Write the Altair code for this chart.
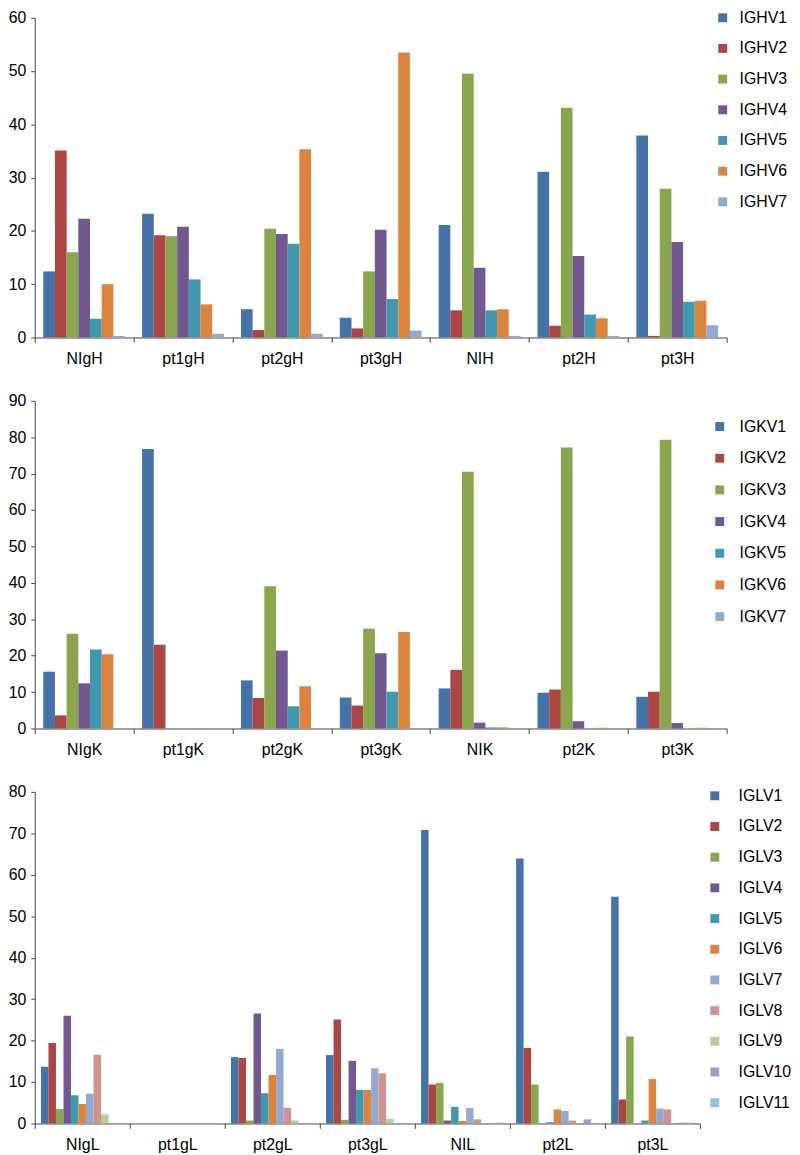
import altair as alt
import pandas as pd

# ---------------- Panel 1: heavy chain ----------------
h_cats = ["NIgH", "pt1gH", "pt2gH", "pt3gH", "NIH", "pt2H", "pt3H"]
h_series = ["IGHV1", "IGHV2", "IGHV3", "IGHV4", "IGHV5", "IGHV6", "IGHV7"]
h_ighv1 = [12.4, 23.2, 5.3, 3.7, 21.1, 31.1, 37.9]
h_ighv2 = [35.1, 19.2, 1.4, 1.7, 5.1, 2.2, 0.3]
h_ighv3 = [16.0, 19.0, 20.4, 12.4, 49.5, 43.1, 27.9]
h_ighv4 = [22.3, 20.8, 19.4, 20.2, 13.1, 15.3, 17.9]
h_ighv5 = [3.5, 10.9, 17.6, 7.2, 5.1, 4.3, 6.7]
h_ighv6 = [10.0, 6.2, 35.3, 53.5, 5.3, 3.6, 6.9]
h_ighv7 = [0.3, 0.7, 0.7, 1.3, 0.3, 0.3, 2.3]
h_values = [h_ighv1, h_ighv2, h_ighv3, h_ighv4, h_ighv5, h_ighv6, h_ighv7]

# ---------------- Panel 2: kappa chain ----------------
k_cats = ["NIgK", "pt1gK", "pt2gK", "pt3gK", "NIK", "pt2K", "pt3K"]
k_series = ["IGKV1", "IGKV2", "IGKV3", "IGKV4", "IGKV5", "IGKV6", "IGKV7"]
k_igkv1 = [15.6, 76.8, 13.2, 8.5, 11.0, 9.8, 8.7]
k_igkv2 = [3.6, 23.0, 8.4, 6.3, 16.1, 10.7, 10.1]
k_igkv3 = [26.0, 0, 39.1, 27.4, 70.5, 77.2, 79.3]
k_igkv4 = [12.4, 0, 21.4, 20.7, 1.6, 2.0, 1.5]
k_igkv5 = [21.7, 0, 6.1, 10.1, 0.3, 0, 0]
k_igkv6 = [20.4, 0, 11.6, 26.5, 0.3, 0.2, 0.2]
k_igkv7 = [0, 0, 0, 0, 0, 0, 0]
k_values = [k_igkv1, k_igkv2, k_igkv3, k_igkv4, k_igkv5, k_igkv6, k_igkv7]

# ---------------- Panel 3: lambda chain ----------------
l_cats = ["NIgL", "pt1gL", "pt2gL", "pt3gL", "NIL", "pt2L", "pt3L"]
l_series = ["IGLV1", "IGLV2", "IGLV3", "IGLV4", "IGLV5", "IGLV6",
            "IGLV7", "IGLV8", "IGLV9", "IGLV10", "IGLV11"]
l_iglv1 = [13.7, 0, 16.0, 16.5, 70.8, 63.9, 54.7]
l_iglv2 = [19.4, 0, 15.8, 25.1, 9.4, 18.2, 5.8]
l_iglv3 = [3.5, 0, 0.7, 0.9, 9.8, 9.4, 21.0]
l_iglv4 = [26.0, 0, 26.5, 15.1, 0.7, 0, 0]
l_iglv5 = [6.8, 0, 7.3, 8.1, 4.0, 0.3, 0.7]
l_iglv6 = [4.7, 0, 11.7, 8.1, 0.6, 3.4, 10.7]
l_iglv7 = [7.2, 0, 18.0, 13.3, 3.7, 3.0, 3.6]
l_iglv8 = [16.6, 0, 3.8, 12.1, 1.0, 0.7, 3.4]
l_iglv9 = [2.2, 0, 0.7, 1.1, 0, 0, 0]
l_iglv10 = [0, 0, 0, 0, 0.1, 1.0, 0.2]
l_iglv11 = [0, 0, 0, 0, 0.2, 0, 0.2]
l_values = [l_iglv1, l_iglv2, l_iglv3, l_iglv4, l_iglv5, l_iglv6,
            l_iglv7, l_iglv8, l_iglv9, l_iglv10, l_iglv11]

palette = ["#4572A7", "#AA4643", "#89A54E", "#71588F", "#4198AF", "#DB843D",
           "#93A9CF", "#D19392", "#B9CD96", "#A99BBD", "#91C3D5"]

FONT = "Liberation Sans"
AXIS_COLOR = "#444444"


def panel(cats, series, values, ymax, width, height, legx, legy,
          rowpad, laboff, outer):
    rows = []
    for s, vals in zip(series, values):
        for c, v in zip(cats, vals):
            rows.append({"cat": c, "ser": s, "val": v})
    df = pd.DataFrame(rows)
    colors = palette[:len(series)]
    return alt.Chart(df).mark_bar().encode(
        x=alt.X("cat:N", sort=cats,
                scale=alt.Scale(paddingInner=0, paddingOuter=0),
                axis=alt.Axis(title=None, tickBand="extent", labelAngle=0,
                              tickSize=5, labelPadding=8, labelFontSize=16,
                              labelFont=FONT, labelColor="#000000",
                              domainColor=AXIS_COLOR, tickColor=AXIS_COLOR)),
        xOffset=alt.XOffset("ser:N", sort=series,
                            scale=alt.Scale(paddingInner=0, paddingOuter=outer)),
        y=alt.Y("val:Q", scale=alt.Scale(domain=[0, ymax], nice=False),
                axis=alt.Axis(title=None, grid=False,
                              values=list(range(0, ymax + 1, 10)),
                              tickSize=4, labelPadding=5, labelFontSize=16,
                              labelFont=FONT, labelColor="#000000",
                              domainColor=AXIS_COLOR, tickColor=AXIS_COLOR)),
        color=alt.Color("ser:N", sort=series,
                        scale=alt.Scale(domain=series, range=colors),
                        legend=alt.Legend(title=None, orient="none",
                                          legendX=legx, legendY=legy,
                                          symbolType="square", symbolSize=81,
                                          symbolStrokeWidth=0,
                                          labelFontSize=16, labelFont=FONT,
                                          labelColor="#000000",
                                          rowPadding=rowpad,
                                          labelOffset=laboff, padding=0)),
    ).properties(width=width, height=height)


p1 = panel(h_cats, h_series, h_values, 60, 699, 323, 687, -8, 15, 9, 0.73)
p2 = panel(k_cats, k_series, k_values, 90, 699, 331, 684, 18, 16, 12, 0.73)
p3 = panel(l_cats, l_series, l_values, 80, 672, 335, 679, -4, 15, 16, 0.83)

chart = alt.vconcat(p1, p2, p3, spacing=64, bounds="flush").resolve_scale(
    x="independent", y="independent", color="independent",
    xOffset="independent"
).resolve_legend(color="independent").properties(
    padding={"left": 0, "top": -4, "right": 0, "bottom": -5}
).configure(font=FONT).configure_view(stroke=None)

chart.save("out.html", embed_options={"renderer": "svg", "actions": False})
